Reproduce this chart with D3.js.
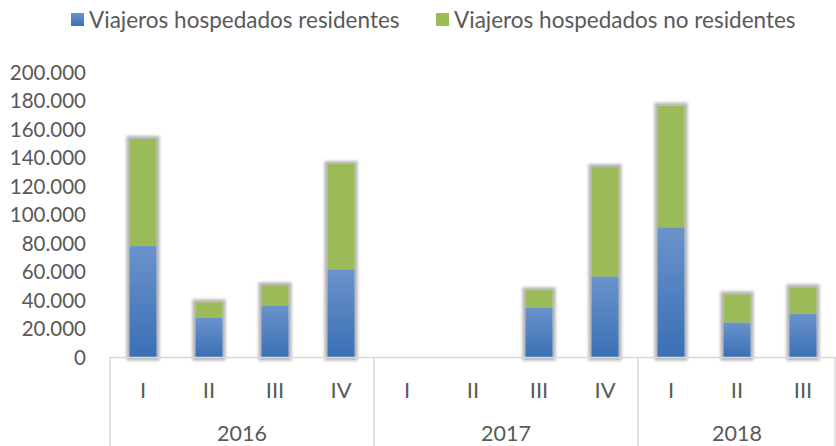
<!DOCTYPE html>
<html>
<head>
<meta charset="utf-8">
<script src="https://cdnjs.cloudflare.com/ajax/libs/d3/7.8.5/d3.min.js"></script>
<style>
  body { margin: 0; background: #fff; }
  svg { display: block; font-family: Lato, "Open Sans", sans-serif; }
</style>
</head>
<body>
<svg id="chart"></svg>
<script>
// data
const quarters = ['I', 'II', 'III', 'IV', 'I', 'II', 'III', 'IV', 'I', 'II', 'III'];
const years = ['2016', '2017', '2018'];
const yearSize = [4, 4, 3];
const residentes = [78200, 28100, 36600, 61900, 0, 0, 35100, 56900, 91400, 24600, 30900];
const noResidentes = [75100, 10600, 14000, 73800, 0, 0, 12000, 76700, 85300, 19700, 18300];
const seriesNames = ['Viajeros hospedados residentes', 'Viajeros hospedados no residentes'];
const yTicks = [0, 20000, 40000, 60000, 80000, 100000, 120000, 140000, 160000, 180000, 200000];

const width = 836, height = 446;
const margin = {top: 72, right: 0, bottom: 89, left: 110};

const svg = d3.select('#chart')
    .attr('width', width)
    .attr('height', height);

const defs = svg.append('defs');
const grad = defs.append('linearGradient')
    .attr('id', 'blueGrad')
    .attr('x1', 0).attr('y1', 0).attr('x2', 0).attr('y2', 1);
grad.append('stop').attr('offset', '0%').attr('stop-color', '#6b93cb');
grad.append('stop').attr('offset', '100%').attr('stop-color', '#3a6fb4');

const glow = defs.append('filter')
    .attr('id', 'glow')
    .attr('x', '-50%').attr('y', '-20%').attr('width', '200%').attr('height', '140%');
glow.append('feMorphology').attr('in', 'SourceAlpha').attr('operator', 'dilate').attr('radius', 2.5).attr('result', 'd');
glow.append('feGaussianBlur').attr('in', 'd').attr('stdDeviation', 1.8).attr('result', 'b');
glow.append('feFlood').attr('flood-color', '#000').attr('flood-opacity', 0.3);
glow.append('feComposite').attr('in2', 'b').attr('operator', 'in').attr('result', 's');
const merge = glow.append('feMerge');
merge.append('feMergeNode').attr('in', 's');
merge.append('feMergeNode').attr('in', 'SourceGraphic');

const innerW = width - margin.left - margin.right;
const innerH = height - margin.top - margin.bottom;
const chart = svg.append('g')
    .attr('transform', `translate(${margin.left}, ${margin.top})`);

const idx = d3.range(quarters.length);
const x = d3.scaleBand()
    .domain(idx)
    .range([0, innerW])
    .paddingInner(0.59)
    .paddingOuter(0.295);

const y = d3.scaleLinear()
    .domain([0, 200000])
    .range([innerH + 0.5, 0.5]);

const fmt = d => d3.format(',')(d).replace(/,/g, '.');

// y tick labels
chart.selectAll('.ytick')
    .data(yTicks)
    .join('text')
    .attr('x', -24)
    .attr('y', d => y(d))
    .attr('dy', '0.35em')
    .attr('text-anchor', 'end')
    .attr('fill', '#595959')
    .style('font-size', '20.5px')
    .text(fmt);

// stacked bars
const stackData = idx.map(i => ({i: i, r: residentes[i], n: noResidentes[i]}));
const stack = d3.stack().keys(['r', 'n'])(stackData);
const fills = ['url(#blueGrad)', '#9bbb59'];

const bars = chart.append('g').attr('filter', 'url(#glow)');
stack.forEach((layer, k) => {
    bars.selectAll('.s' + k)
        .data(layer.filter(d => d[1] > d[0]))
        .join('rect')
        .attr('x', d => x(d.data.i))
        .attr('width', x.bandwidth())
        .attr('y', d => y(d[1]))
        .attr('height', d => y(d[0]) - y(d[1]))
        .attr('fill', fills[k]);
});

// x axis line and group separators
chart.append('line')
    .attr('x1', 0).attr('x2', innerW)
    .attr('y1', y(0)).attr('y2', y(0))
    .attr('stroke', '#d9d9d9').attr('stroke-width', 1.5);

let start = 0;
const groupStarts = yearSize.map(s => { const v = start; start += s; return v; });
const sepX = i => x.range()[0] + i * x.step();

chart.selectAll('.sep')
    .data(groupStarts.concat([quarters.length]))
    .join('line')
    .attr('x1', d => Math.min(sepX(d), innerW - 1)).attr('x2', d => Math.min(sepX(d), innerW - 1))
    .attr('y1', y(0)).attr('y2', height - margin.top)
    .attr('stroke', '#d9d9d9').attr('stroke-width', 1.5);

chart.selectAll('.qlab')
    .data(idx)
    .join('text')
    .attr('x', d => x(d) + x.bandwidth() / 2)
    .attr('y', y(0) + 33)
    .attr('dy', '0.35em')
    .attr('text-anchor', 'middle')
    .attr('fill', '#595959')
    .style('font-size', '22px')
    .text(d => quarters[d]);

chart.selectAll('.ylab')
    .data(years)
    .join('text')
    .attr('x', (d, k) => sepX(groupStarts[k]) + yearSize[k] * x.step() / 2)
    .attr('y', y(0) + 76)
    .attr('dy', '0.35em')
    .attr('text-anchor', 'middle')
    .attr('fill', '#595959')
    .style('font-size', '21.5px')
    .text(d => d);

// legend
const legendX = [71, 436];
const legend = svg.selectAll('.leg')
    .data(seriesNames)
    .join('g')
    .attr('transform', (d, k) => `translate(${legendX[k]}, 13)`);
legend.append('rect')
    .attr('width', 13).attr('height', 13)
    .attr('fill', (d, k) => fills[k]);
legend.append('text')
    .attr('x', 18)
    .attr('y', 7)
    .attr('dy', '0.35em')
    .attr('fill', '#595959')
    .style('font-size', '22.5px')
    .text(d => d);
</script>
</body>
</html>
